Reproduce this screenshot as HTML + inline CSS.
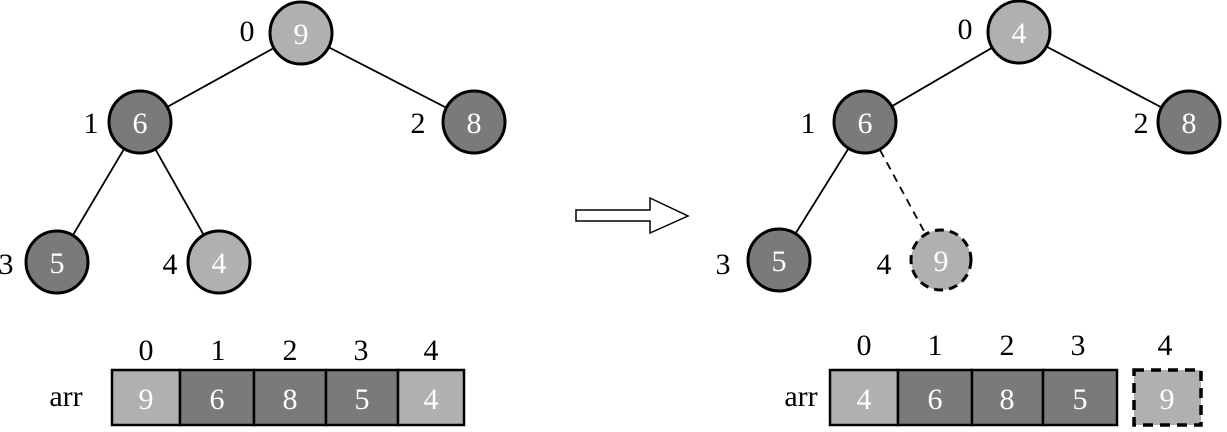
<!DOCTYPE html>
<html><head><style>html,body{margin:0;padding:0;background:#fff}</style></head>
<body>
<svg width="1227" height="427" viewBox="0 0 1227 427" xmlns="http://www.w3.org/2000/svg" font-family="Liberation Serif, serif" font-size="30">
<g stroke="#000" stroke-width="1.8">
<line x1="301" y1="33" x2="140" y2="122"/><line x1="301" y1="33" x2="474" y2="122"/>
<line x1="140" y1="122" x2="57" y2="262"/><line x1="140" y1="122" x2="219" y2="262"/>
<line x1="1019" y1="32" x2="865" y2="122"/><line x1="1019" y1="32" x2="1189" y2="122"/>
<line x1="865" y1="122" x2="779" y2="260"/>
<line x1="880" y1="150" x2="925" y2="233" stroke-dasharray="8,6"/>
</g>
<g stroke="#000" stroke-width="3">
<circle cx="301" cy="33" r="31" fill="#b0b0b0"/>
<circle cx="140" cy="122" r="31" fill="#7a7a7a"/>
<circle cx="474" cy="122" r="31" fill="#7a7a7a"/>
<circle cx="57" cy="262" r="31" fill="#7a7a7a"/>
<circle cx="219" cy="262" r="31" fill="#b0b0b0"/>
<circle cx="1019" cy="32" r="31" fill="#b0b0b0"/>
<circle cx="865" cy="122" r="31" fill="#7a7a7a"/>
<circle cx="1189" cy="122" r="31" fill="#7a7a7a"/>
<circle cx="779" cy="260" r="31" fill="#7a7a7a"/>
<circle cx="941" cy="260" r="30" fill="#b0b0b0" stroke-dasharray="9,6"/>
</g>
<g fill="#fff" text-anchor="middle">
<text x="301" y="44">9</text><text x="140" y="133">6</text><text x="474" y="133">8</text>
<text x="57" y="273">5</text><text x="219" y="273">4</text>
<text x="1019" y="43">4</text><text x="865" y="133">6</text><text x="1189" y="133">8</text>
<text x="779" y="271">5</text><text x="941" y="271">9</text>
</g>
<g fill="#000" text-anchor="middle">
<text x="247" y="41">0</text><text x="91" y="133">1</text><text x="418" y="133">2</text>
<text x="6" y="274">3</text><text x="170" y="274">4</text>
<text x="965" y="39">0</text><text x="808" y="133">1</text><text x="1141" y="133">2</text>
<text x="723" y="274">3</text><text x="884" y="274">4</text>
<text x="146" y="360">0</text><text x="218" y="360">1</text><text x="290" y="360">2</text><text x="361" y="360">3</text><text x="431" y="360">4</text>
<text x="864" y="355">0</text><text x="935" y="355">1</text><text x="1007" y="355">2</text><text x="1078" y="355">3</text><text x="1165" y="355">4</text>
<text x="66" y="406">arr</text><text x="801" y="406">arr</text>
</g>
<g stroke="#000" stroke-width="2.5">
<rect x="112" y="370" width="68" height="55" fill="#b0b0b0"/>
<rect x="180" y="370" width="74" height="55" fill="#7a7a7a"/>
<rect x="254" y="370" width="72" height="55" fill="#7a7a7a"/>
<rect x="326" y="370" width="72" height="55" fill="#7a7a7a"/>
<rect x="398" y="370" width="66" height="55" fill="#b0b0b0"/>
<rect x="830" y="370" width="68" height="55" fill="#b0b0b0"/>
<rect x="898" y="370" width="74" height="55" fill="#7a7a7a"/>
<rect x="972" y="370" width="71" height="55" fill="#7a7a7a"/>
<rect x="1043" y="370" width="74" height="55" fill="#7a7a7a"/>
<rect x="1134" y="370" width="67" height="55" fill="#b0b0b0" stroke-width="3.5" stroke-dasharray="10,7"/>
</g>
<g fill="#fff" text-anchor="middle">
<text x="146" y="409">9</text><text x="217" y="409">6</text><text x="290" y="409">8</text><text x="362" y="409">5</text><text x="431" y="409">4</text>
<text x="864" y="409">4</text><text x="935" y="409">6</text><text x="1007" y="409">8</text><text x="1080" y="409">5</text><text x="1167" y="409">9</text>
</g>
<polygon points="576,210 650,210 650,198 688,216 650,233 650,221 576,221" fill="#fff" stroke="#000" stroke-width="1.5"/>
</svg>
</body></html>
